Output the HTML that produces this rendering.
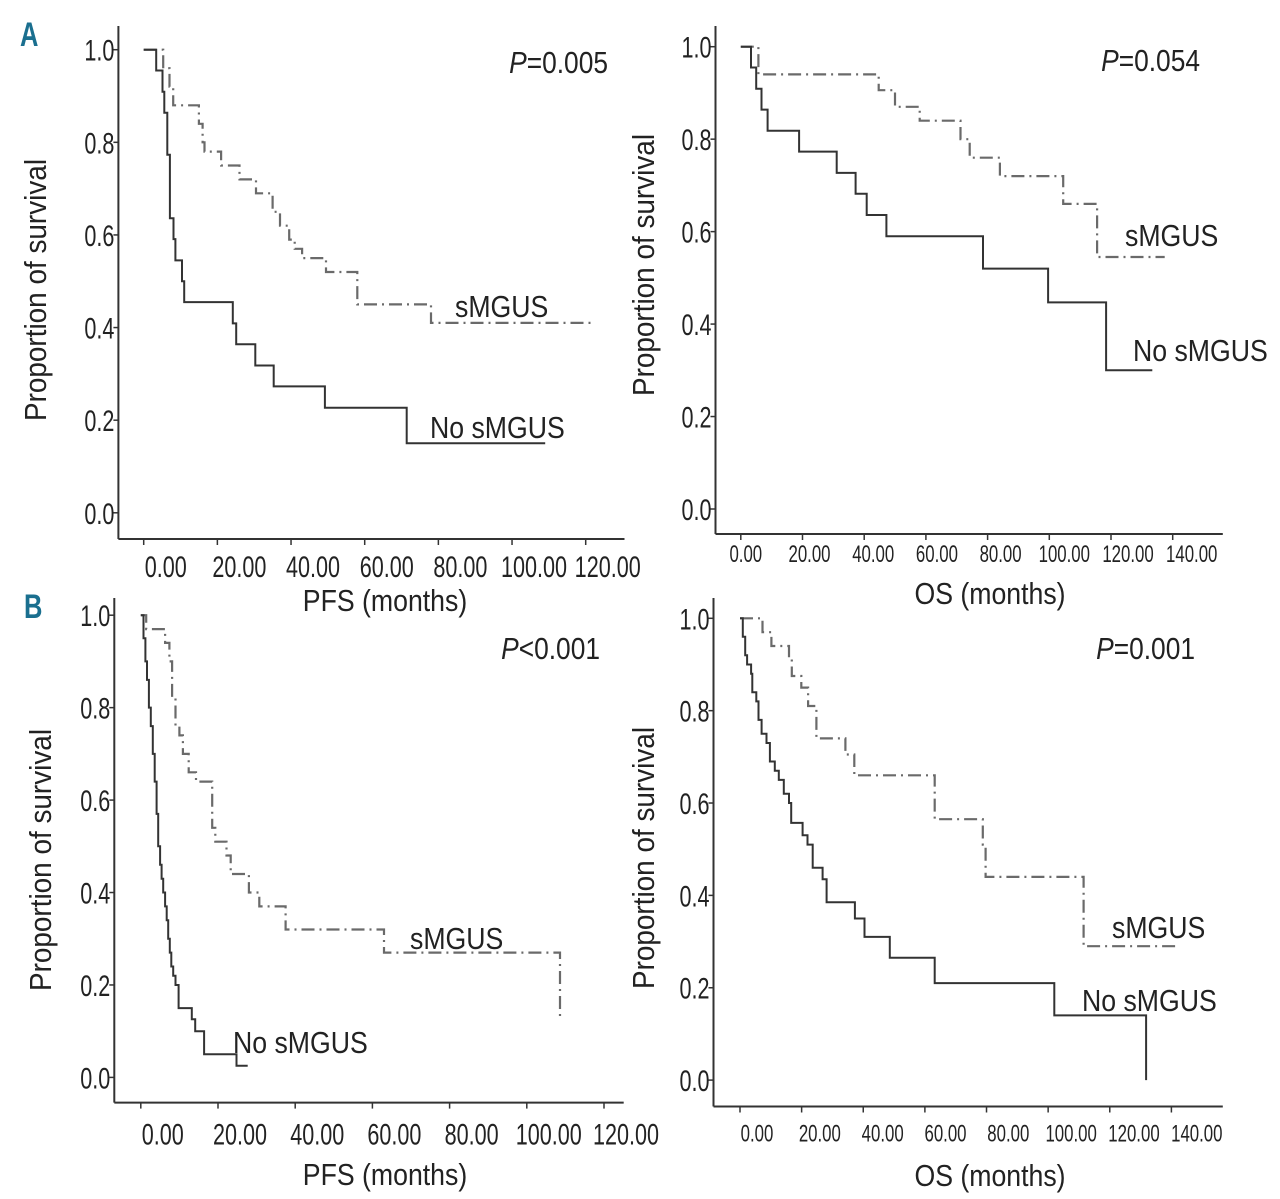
<!DOCTYPE html>
<html><head><meta charset="utf-8"><style>
html,body{margin:0;padding:0;background:#fff;}
svg{display:block;}
text{font-family:"Liberation Sans Narrow","Liberation Sans",sans-serif;fill:#222;}
</style></head><body>
<svg id="fig" width="1280" height="1199" viewBox="0 0 1280 1199" xmlns="http://www.w3.org/2000/svg">
<text x="0" y="0" style="font-family:'Liberation Sans',sans-serif;font-weight:bold;font-size:34px;fill:#1a6f8f" transform="translate(20,46) scale(0.75,1)">A</text>
<text x="0" y="0" style="font-family:'Liberation Sans',sans-serif;font-weight:bold;font-size:34px;fill:#1a6f8f" transform="translate(24,618) scale(0.75,1)">B</text>
</svg>
<script>
// Panel A left (PFS)
const aL_xTicks = [0,20,40,60,80,100,120];
const aL_noT = [3.4,5.1,5.6,6.4,7.1,8.1,8.6,10.4,11,24.2,25.1,30.3,35.3,49.2,71.4];
const aL_noS = [0.955,0.909,0.864,0.773,0.636,0.591,0.545,0.5,0.455,0.409,0.364,0.318,0.273,0.227,0.15];
const aL_noEnd = 109;
const aL_smT = [5.3,7,8,15,16,16.5,21,26,30.5,35,37,39.5,41,43,49.5,58,78];
const aL_smS = [0.96,0.92,0.88,0.84,0.8,0.78,0.75,0.72,0.69,0.65,0.62,0.59,0.57,0.55,0.52,0.45,0.41];
const aL_smEnd = 122;
// Panel A right (OS)
const aR_xTicks = [0,20,40,60,80,100,120,140];
const aR_noT = [3.3,5.0,6.7,8.7,18.9,31.1,37.2,40.8,47.2,78.5,99.6,118.4];
const aR_noS = [0.955,0.909,0.864,0.818,0.773,0.727,0.682,0.636,0.59,0.52,0.447,0.30];
const aR_noEnd = 133.4;
const aR_smT = [5.7,44.7,50,58,71.2,74.2,84,104.5,115.5];
const aR_smS = [0.94,0.906,0.87,0.84,0.80,0.76,0.72,0.66,0.545];
const aR_smEnd = 137.4;
// Panel B left (PFS)
const bL_xTicks = [0,20,40,60,80,100,120];
const bL_noT = [0.7,1.2,1.6,2.1,2.6,3.1,3.6,4.1,4.5,5.0,5.4,5.8,6.3,6.7,7.1,7.5,7.9,8.4,9,9.8,13.2,14.1,16.4,24.8];
const bL_noS = [0.95,0.9,0.86,0.8,0.76,0.7,0.64,0.57,0.5,0.46,0.43,0.4,0.37,0.34,0.3,0.27,0.24,0.22,0.2,0.15,0.126,0.1,0.05,0.025];
const bL_noEnd = 27.7;
const bL_smT = [1.4,6.3,7.4,8.1,9,10,10.9,12.4,14.3,18.5,19.3,22.2,23.3,28,30.7,37.5,63,108.6];
const bL_smS = [0.97,0.94,0.9,0.82,0.76,0.74,0.7,0.66,0.64,0.54,0.51,0.48,0.44,0.40,0.37,0.32,0.27,0.13];
const bL_smEnd = 108.6;
// Panel B right (OS)
const bR_xTicks = [0,20,40,60,80,100,120,140];
const bR_noT = [0.9,1.7,2.3,3.6,4,5.3,6,7,8.6,9.7,11.3,12.6,14.2,15.9,16.6,20.3,21.9,23.6,26.8,28.1,37.3,40.4,48.6,63.2,102,131.8];
const bR_noS = [0.96,0.92,0.9,0.88,0.84,0.82,0.78,0.75,0.73,0.69,0.67,0.65,0.62,0.6,0.557,0.53,0.51,0.46,0.435,0.385,0.35,0.31,0.265,0.21,0.14,0.0];
const bR_noEnd = 131.8;
const bR_smT = [7.3,10.2,15.9,16.8,19.9,22.1,24.8,34.2,37.1,63.2,78.8,79.7,111.5];
const bR_smS = [0.97,0.94,0.915,0.875,0.85,0.81,0.74,0.705,0.66,0.565,0.51,0.44,0.29];
const bR_smEnd = 142;
const yTicks = [0.0,0.2,0.4,0.6,0.8,1.0];

const NS='http://www.w3.org/2000/svg';
const svg=document.getElementById('fig');
function mk(tag,attrs,parent){const e=document.createElementNS(NS,tag);for(const k in attrs)e.setAttribute(k,attrs[k]);(parent||svg).appendChild(e);return e;}
function txt(g,x,y,size,anchor,sx,extra){
  return mk('text',{x:0,y:0,'text-anchor':anchor,'font-size':size,transform:`translate(${x},${y}) ${extra||''} scale(${sx},1)`},g);
}

function panel(p){
  const g=mk('g',{});
  
  
  const X=v=>p.x0+(v/p.xmax)*(p.x1-p.x0);
  const Y=v=>p.y0+(1-v)*(p.y1-p.y0);
  const ya=mk('line',{x1:p.ax,y1:p.atop,x2:p.ax,y2:p.ab,stroke:'#333','stroke-width':2},g);
  
  
  const xa=mk('line',{x1:p.ax,y1:p.ab,x2:p.aright,y2:p.ab,stroke:'#333','stroke-width':2},g);
  
  
  yTicks.forEach(v=>{
    mk('line',{x1:p.ax-5,y1:Y(v),x2:p.ax,y2:Y(v),stroke:'#333','stroke-width':1.5},g);
    const t=txt(g,p.ax-4,Y(v)+11,30,'end',0.72);
    t.textContent=v.toFixed(1);
    
    
  });
  p.ticks.forEach((v,i)=>{
    mk('line',{x1:X(v),y1:p.ab,x2:X(v),y2:p.ab+6,stroke:'#333','stroke-width':1.5},g);
    const t=txt(g,X(v)+p.lblOff+i*p.lblStep,p.ab+p.lblDy,p.xfs,'middle',p.xsx);
    t.textContent=v.toFixed(2);
    
    
  });
  function curve(T,S,end,cls){
    let d='M'+X(0)+','+Y(1);
    T.forEach((t,i)=>{d+=' H'+X(t).toFixed(1)+' V'+Y(S[i]).toFixed(1);});
    d+=' H'+X(end).toFixed(1);
    const attrs={d:d,fill:'none'};
    if(cls==='no'){attrs.stroke='#333';attrs['stroke-width']=2;}
    else{attrs.stroke='#6a6a6a';attrs['stroke-width']=2.2;attrs['stroke-dasharray']='13 5 2 5';}
    return mk('path',attrs,g);
  }
  const c1=curve(p.smT,p.smS,p.smEnd,'sm');
  
  
  const c2=curve(p.noT,p.noS,p.noEnd,'no');
  
  
  const yt=txt(g,p.ytx,p.yty,31,'middle',0.9,'rotate(-90)');
  yt.textContent='Proportion of survival';
  
  
  const xt=txt(g,p.xtx,p.xty,31,'middle',0.86);
  xt.textContent=p.xtitle;
  
  
  const pv=txt(g,p.px,p.py,31,'end',0.85);
  pv.innerHTML='<tspan font-style="italic">P</tspan>'+p.pval;
  
  
  const l1=txt(g,p.smLx,p.smLy,31,'start',0.86);
  l1.textContent='sMGUS';
  
  
  const l2=txt(g,p.noLx,p.noLy,31,'start',0.86);
  l2.textContent='No sMGUS';
  
  
}

panel({id:'panel-a-pfs',x0:143.7,x1:585.7,xmax:120,y0:49.7,y1:512.8,ax:118.4,atop:26,ab:539,aright:624.5,
  ticks:aL_xTicks,lblOff:22,lblStep:0,lblDy:38,xfs:30,xsx:0.72,
  noT:aL_noT,noS:aL_noS,noEnd:aL_noEnd,smT:aL_smT,smS:aL_smS,smEnd:aL_smEnd,
  ytx:46,yty:290,xtx:385,xty:611,xtitle:'PFS (months)',px:608,py:73,pval:'=0.005',
  smLx:455,smLy:317,noLx:430,noLy:438});
panel({id:'panel-a-os',x0:740.8,x1:1172.7,xmax:140,y0:46.7,y1:509,ax:715.5,atop:26,ab:534,aright:1222.8,
  ticks:aR_xTicks,lblOff:5,lblStep:2,lblDy:28,xfs:24,xsx:0.7,
  noT:aR_noT,noS:aR_noS,noEnd:aR_noEnd,smT:aR_smT,smS:aR_smS,smEnd:aR_smEnd,
  ytx:654,yty:265,xtx:990,xty:604,xtitle:'OS (months)',px:1200,py:71,pval:'=0.054',
  smLx:1125,smLy:246,noLx:1133,noLy:361});
panel({id:'panel-b-pfs',x0:140.8,x1:604,xmax:120,y0:615.2,y1:1077.4,ax:114.3,atop:598,ab:1102.6,aright:623.7,
  ticks:bL_xTicks,lblOff:22,lblStep:0,lblDy:42,xfs:30,xsx:0.72,
  noT:bL_noT,noS:bL_noS,noEnd:bL_noEnd,smT:bL_smT,smS:bL_smS,smEnd:bL_smEnd,
  ytx:51,yty:860,xtx:385,xty:1185,xtitle:'PFS (months)',px:600,py:659,pval:'<0.001',
  smLx:410,smLy:949,noLx:233,noLy:1053});
panel({id:'panel-b-os',x0:740,x1:1171.4,xmax:140,y0:618.3,y1:1080.1,ax:713.5,atop:598,ab:1106.5,aright:1222.8,
  ticks:bR_xTicks,lblOff:17,lblStep:1.2,lblDy:35,xfs:24,xsx:0.7,
  noT:bR_noT,noS:bR_noS,noEnd:bR_noEnd,smT:bR_smT,smS:bR_smS,smEnd:bR_smEnd,
  ytx:654,yty:858,xtx:990,xty:1186,xtitle:'OS (months)',px:1195,py:659,pval:'=0.001',
  smLx:1112,smLy:938,noLx:1082,noLy:1011});
</script>
</body></html>
